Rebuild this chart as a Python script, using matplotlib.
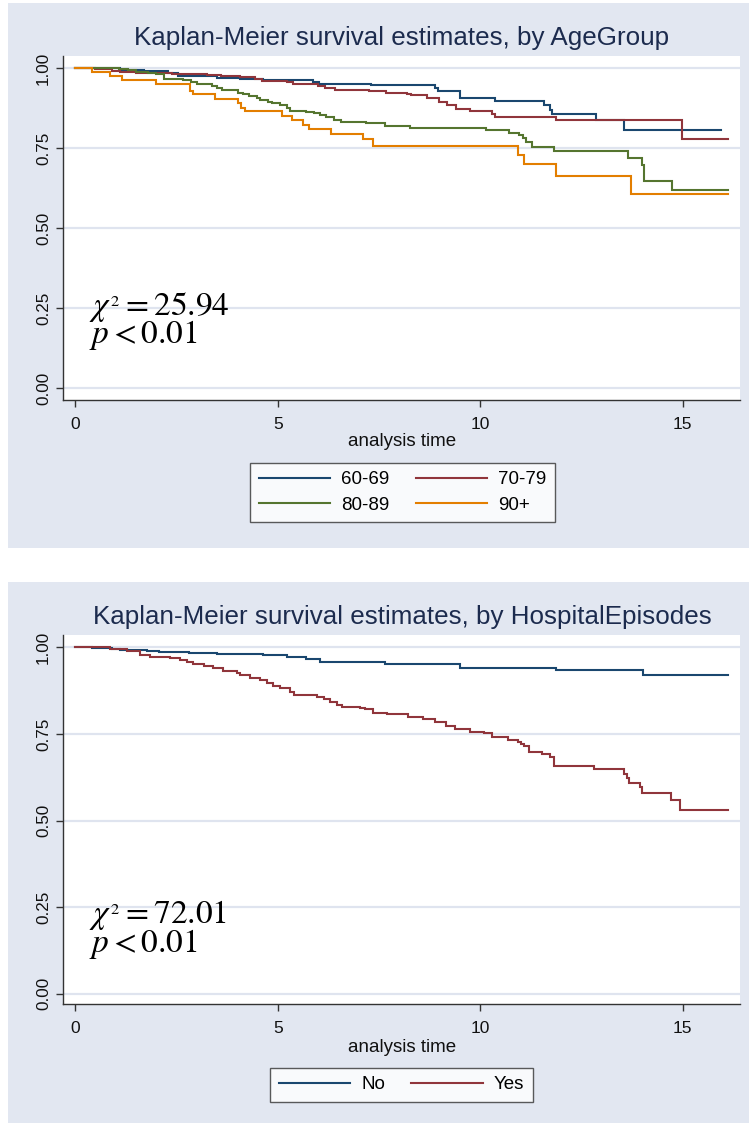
import matplotlib
matplotlib.use("Agg")
import matplotlib.pyplot as plt
from matplotlib.patches import Rectangle
from matplotlib.lines import Line2D

plt.rcParams['font.family'] = ['Liberation Sans', 'DejaVu Sans']
plt.rcParams['mathtext.fontset'] = 'stix'

# ---------------- data ----------------
# Panel 1: by AgeGroup
age_labels = ["60-69", "70-79", "80-89", "90+"]
t_6069 = [0, 1.1, 1.7, 2.3, 2.54, 3.5, 4.07, 4.64, 5.86, 6.02, 7.3, 8.88, 8.96, 9.5,
          10.36, 11.56, 11.72, 11.78, 12.85, 13.55, 15.95]
s_6069 = [1.0, 0.995, 0.99, 0.983, 0.976, 0.970, 0.967, 0.963, 0.955, 0.951, 0.947, 0.937,
          0.928, 0.907, 0.897, 0.884, 0.869, 0.855, 0.836, 0.807, 0.807]

t_7079 = [0, 0.5, 0.9, 1.1, 1.5, 2.4, 3.25, 3.6, 4.07, 4.45, 4.6, 5.22, 5.38, 6.0, 6.17,
          6.41, 7.26, 7.67, 8.2, 8.3, 8.68, 8.98, 9.17, 9.4, 9.75, 10.28, 10.36, 11.88,
          14.97, 16.12]
s_7079 = [1.0, 0.997, 0.99, 0.988, 0.985, 0.982, 0.977, 0.975, 0.972, 0.965, 0.960, 0.955,
          0.951, 0.943, 0.938, 0.932, 0.928, 0.922, 0.918, 0.915, 0.906, 0.895, 0.885,
          0.871, 0.866, 0.855, 0.848, 0.836, 0.777, 0.777]

t_8089 = [0, 1.09, 1.3, 1.5, 1.8, 2.0, 2.19, 2.67, 2.87, 3.0, 3.38, 3.5, 3.62, 4.03, 4.15,
          4.28, 4.48, 4.57, 4.75, 4.85, 5.05, 5.22, 5.30, 5.55, 5.71, 5.9, 6.05, 6.2, 6.39,
          6.56, 6.85, 7.17, 7.66, 8.27, 10.14, 10.72, 10.95, 11.05, 11.12, 11.27, 11.83,
          13.65, 13.98, 14.03, 14.74, 16.12]
s_8089 = [1.0, 0.998, 0.995, 0.988, 0.985, 0.98, 0.967, 0.961, 0.955, 0.950, 0.943, 0.938,
          0.93, 0.922, 0.918, 0.911, 0.905, 0.901, 0.895, 0.89, 0.885, 0.874, 0.867, 0.865,
          0.862, 0.858, 0.853, 0.846, 0.839, 0.832, 0.830, 0.827, 0.820, 0.8135, 0.806,
          0.798, 0.79, 0.78, 0.77, 0.753, 0.742, 0.718, 0.697, 0.647, 0.619, 0.619]

t_90 = [0, 0.41, 0.85, 1.15, 1.99, 2.84, 2.9, 3.44, 4.01, 4.1, 4.2, 5.10, 5.36, 5.62, 5.76,
        6.31, 7.11, 7.34, 10.92, 11.09, 11.86, 13.71, 16.12]
s_90 = [1.0, 0.988, 0.976, 0.9625, 0.951, 0.929, 0.918, 0.902, 0.890, 0.876, 0.865, 0.851,
        0.8375, 0.823, 0.809, 0.794, 0.777, 0.757, 0.728, 0.699, 0.6625, 0.607, 0.607]

chi2_age = "25.94"
p_age = "0.01"

# Panel 2: by HospitalEpisodes
hosp_labels = ["No", "Yes"]
t_no = [0, 0.41, 0.9, 1.1, 1.78, 2.07, 2.81, 3.49, 4.64, 5.22, 5.7, 6.04, 7.65, 9.5,
        11.88, 14.02, 16.12]
s_no = [1.0, 0.998, 0.995, 0.993, 0.99, 0.987, 0.983, 0.980, 0.977, 0.973, 0.966, 0.957,
        0.952, 0.942, 0.934, 0.920, 0.920]

t_yes = [0, 0.86, 1.27, 1.60, 1.85, 2.34, 2.59, 2.76, 2.92, 3.17, 3.41, 3.66, 3.99, 4.07,
         4.32, 4.56, 4.73, 4.89, 5.06, 5.30, 5.39, 5.96, 6.13, 6.29, 6.46, 6.58, 7.03, 7.16,
         7.36, 7.69, 8.22, 8.59, 8.88, 9.16, 9.37, 9.74, 10.1, 10.3, 10.68, 10.92, 11.0,
         11.08, 11.2, 11.53, 11.73, 11.81, 12.8, 13.54, 13.62, 13.66, 13.95, 13.99, 14.70,
         14.93, 16.12]
s_yes = [1.0, 0.9966, 0.989, 0.978, 0.9735, 0.9687, 0.9639, 0.9591, 0.9523, 0.9475, 0.9398,
         0.9321, 0.9273, 0.9205, 0.9109, 0.9061, 0.8964, 0.8887, 0.8820, 0.8724, 0.8627,
         0.8579, 0.8502, 0.8435, 0.8338, 0.8290, 0.8261, 0.8213, 0.8117, 0.807, 0.800,
         0.794, 0.785, 0.773, 0.764, 0.756, 0.752, 0.742, 0.733, 0.728, 0.721, 0.714,
         0.699, 0.692, 0.685, 0.657, 0.648, 0.635, 0.622, 0.609, 0.598, 0.580, 0.559,
         0.530, 0.530]

chi2_hosp = "72.01"
p_hosp = "0.01"

x_ticks = [0, 5, 10, 15]
y_ticks = [0.0, 0.25, 0.5, 0.75, 1.0]
y_ticklabels = ["0.00", "0.25", "0.50", "0.75", "1.00"]

# ---------------- style ----------------
W, H = 749, 1124
NAVY = "#1a476f"
MAROON = "#90353b"
GREEN = "#55752f"
ORANGE = "#e37e00"
PANEL = "#e2e7f1"
GRID = "#dfe4ef"
TITLE_C = "#1c2b4e"
AXC = "#333333"

fig = plt.figure(figsize=(W / 100, H / 100), dpi=100)
fig.patch.set_facecolor("white")


def fx(px):
    return px / W


def fy(py):
    return 1 - py / H


def rect(x0, y0, x1, y1, color):
    fig.patches.append(Rectangle((fx(x0), fy(y1)), fx(x1) - fx(x0), fy(y0) - fy(y1),
                                 transform=fig.transFigure, facecolor=color,
                                 edgecolor="none", zorder=-10))


rect(8, 3, 749, 548, PANEL)
rect(8, 582, 749, 1123, PANEL)


def make_axes(top, bottom, ylim):
    ax = fig.add_axes([fx(63), fy(bottom), fx(740) - fx(63), fy(top) - fy(bottom)])
    ax.set_facecolor("white")
    ax.set_xlim(-0.3, 16.41)
    ax.set_ylim(*ylim)
    for s in ("top", "right"):
        ax.spines[s].set_visible(False)
    for s in ("left", "bottom"):
        ax.spines[s].set_color(AXC)
        ax.spines[s].set_linewidth(1.0)
    ax.set_xticks(x_ticks)
    ax.set_xticklabels([str(v) for v in x_ticks], fontsize=12.5, color="#111111")
    ax.set_yticks(y_ticks)
    ax.set_yticklabels(y_ticklabels, fontsize=12.3, color="#111111", rotation=90,
                       va="center")
    ax.tick_params(axis="both", direction="out", length=5, width=1.0, color=AXC)
    ax.tick_params(axis="y", pad=3.5)
    ax.tick_params(axis="x", pad=7)
    ax.grid(axis="y", color=GRID, linewidth=1.6)
    ax.set_axisbelow(True)
    return ax


def km(ax, t, s, color):
    ax.step(t, s, where="post", color=color, linewidth=1.5, solid_joinstyle="miter")


def stat_text(ax, chi, p, y_last):
    ax.text(0.35, y_last, r"$\chi^{{}_{2}} = " + chi + "$\n" + r"$p < " + p + "$",
            fontsize=24, color="black", va="baseline", ha="left",
            multialignment="left", linespacing=0.78)


# ---------- panel 1 ----------
ax1 = make_axes(56, 400, (-0.0375, 1.0375))
km(ax1, t_6069, s_6069, NAVY)
km(ax1, t_7079, s_7079, MAROON)
km(ax1, t_8089, s_8089, GREEN)
km(ax1, t_90, s_90, ORANGE)
stat_text(ax1, chi2_age, p_age, 0.140)
fig.text(fx(402), fy(38), "Kaplan-Meier survival estimates, by AgeGroup", fontsize=18.7,
         color=TITLE_C, ha="center", va="center")
fig.text(fx(402), fy(441), "analysis time", fontsize=13.5, color="#111111",
         ha="center", va="center")

h1 = [Line2D([], [], color=c, linewidth=1.5) for c in (NAVY, GREEN, MAROON, ORANGE)]
l1 = [age_labels[0], age_labels[2], age_labels[1], age_labels[3]]
leg1 = fig.legend(h1, l1, loc="center", bbox_to_anchor=(fx(402.5), fy(492.5)), ncol=2,
                  fontsize=13.5, frameon=True, fancybox=False, handlelength=3.8,
                  handletextpad=0.6, columnspacing=1.4, labelspacing=0.45,
                  borderpad=0.45)
leg1.get_frame().set_edgecolor(AXC)
leg1.get_frame().set_linewidth(1.0)

# ---------- panel 2 ----------
ax2 = make_axes(635, 1004, (-0.030, 1.036))
km(ax2, t_no, s_no, NAVY)
km(ax2, t_yes, s_yes, MAROON)
stat_text(ax2, chi2_hosp, p_hosp, 0.121)
fig.text(fx(402), fy(617), "Kaplan-Meier survival estimates, by HospitalEpisodes",
         fontsize=18.7, color=TITLE_C, ha="center", va="center")
fig.text(fx(402), fy(1047), "analysis time", fontsize=13.5, color="#111111",
         ha="center", va="center")

h2 = [Line2D([], [], color=c, linewidth=1.5) for c in (NAVY, MAROON)]
leg2 = fig.legend(h2, hosp_labels, loc="center", bbox_to_anchor=(fx(401.5), fy(1084.5)),
                  ncol=2, fontsize=13.5, frameon=True, fancybox=False, handlelength=3.8,
                  handletextpad=0.6, columnspacing=1.4, borderpad=0.45)
leg2.get_frame().set_edgecolor(AXC)
leg2.get_frame().set_linewidth(1.0)

fig.savefig("out.png", dpi=100, facecolor="white")
